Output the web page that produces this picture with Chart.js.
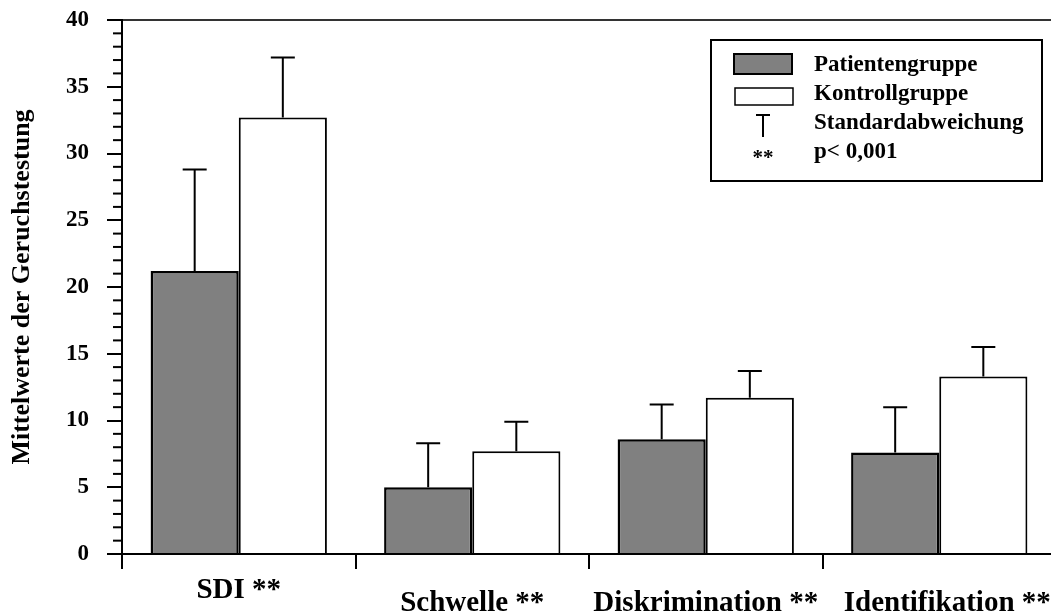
<!DOCTYPE html>
<html>
<head>
<meta charset="utf-8">
<script src="https://cdn.jsdelivr.net/npm/chart.js@4.4.1/dist/chart.umd.min.js"></script>
<style>
  html, body { margin: 0; padding: 0; background: #fff; overflow: hidden; }
  #c { display: block; }
</style>
</head>
<body>
<canvas id="c" width="1056" height="612"></canvas>

<script type="text/javascript">
    // Werte
    const categories = ['SDI **', 'Schwelle **', 'Diskrimination **', 'Identifikation **'];
    const patientMeans = [21.2, 5.0, 8.6, 7.6];
    const patientSD = [7.6, 3.3, 2.6, 3.4];
    const controlMeans = [32.7, 7.7, 11.7, 13.3];
    const controlSD = [4.5, 2.2, 2.0, 2.2];
    const yTicks = [0, 5, 10, 15, 20, 25, 30, 35, 40];
    const legendLabels = ['Patientengruppe', 'Kontrollgruppe', 'Standardabweichung', 'p< 0,001'];
    const yTitle = 'Mittelwerte der Geruchstestung';

    const SERIF = '"Liberation Serif", "Times New Roman", serif';

    // Standardabweichung nach oben
    const errorBars = {
      id: 'errorBars',
      afterDatasetsDraw(chart) {
        const ctx = chart.ctx;
        const y = chart.scales.y;
        const sds = [patientSD, controlSD];
        const means = [patientMeans, controlMeans];
        ctx.save();
        ctx.strokeStyle = '#000';
        ctx.lineWidth = 2;
        chart.data.datasets.forEach((ds, di) => {
          chart.getDatasetMeta(di).data.forEach((bar, i) => {
            const top = y.getPixelForValue(means[di][i] + sds[di][i]);
            ctx.beginPath();
            ctx.moveTo(bar.x, bar.y);
            ctx.lineTo(bar.x, top);
            ctx.moveTo(bar.x - 12, top);
            ctx.lineTo(bar.x + 12, top);
            ctx.stroke();
          });
        });
        ctx.restore();
      }
    };

    // kleine Striche an der y-Achse
    const minorTicks = {
      id: 'minorTicks',
      afterDraw(chart) {
        const ctx = chart.ctx;
        const y = chart.scales.y;
        const left = chart.chartArea.left;
        ctx.save();
        ctx.strokeStyle = '#000';
        ctx.lineWidth = 2;
        for (let v = y.min; v <= y.max; v++) {
          if (v % 5 === 0) continue;
          const py = y.getPixelForValue(v);
          ctx.beginPath();
          ctx.moveTo(left - 9, py);
          ctx.lineTo(left, py);
          ctx.stroke();
        }
        ctx.restore();
      }
    };

    // Kategorienamen unter der x-Achse
    const xLabels = {
      id: 'xLabels',
      afterDraw(chart) {
        const ctx = chart.ctx;
        const x = chart.scales.x;
        ctx.save();
        ctx.fillStyle = '#000';
        ctx.font = 'bold 29px ' + SERIF;
        ctx.textAlign = 'center';
        ctx.textBaseline = 'alphabetic';
        categories.forEach((lab, i) => {
          const base = i === 0 ? 598 : 611;
          const nudge = i === 3 ? 8 : 0;
          ctx.fillText(lab, x.getPixelForValue(i) + nudge, base);
        });
        ctx.restore();
      }
    };

    // Legende mit Rahmen
    const boxLegend = {
      id: 'boxLegend',
      afterDraw(chart) {
        const ctx = chart.ctx;
        const ds = chart.data.datasets;
        ctx.save();
        ctx.strokeStyle = '#000';
        ctx.lineWidth = 2;
        ctx.fillStyle = '#fff';
        ctx.fillRect(711, 40, 331, 141);
        ctx.strokeRect(711, 40, 331, 141);

        ctx.lineWidth = 2;
        ctx.fillStyle = ds[0].backgroundColor;
        ctx.fillRect(734, 54, 58, 20);
        ctx.strokeRect(734, 54, 58, 20);
        ctx.lineWidth = 1.5;
        ctx.fillStyle = ds[1].backgroundColor;
        ctx.fillRect(735, 88, 58, 17);
        ctx.strokeRect(735, 88, 58, 17);

        ctx.lineWidth = 2;
        ctx.beginPath();
        ctx.moveTo(756, 115);
        ctx.lineTo(770, 115);
        ctx.moveTo(763, 115);
        ctx.lineTo(763, 137);
        ctx.stroke();

        ctx.fillStyle = '#000';
        ctx.font = 'bold 21px ' + SERIF;
        ctx.textAlign = 'center';
        ctx.fillText('**', 763, 164);

        ctx.font = 'bold 23px ' + SERIF;
        ctx.textAlign = 'left';
        const bases = [71, 100, 129, 158];
        legendLabels.forEach((t, i) => ctx.fillText(t, 814, bases[i]));
        ctx.restore();
      }
    };

    const ctx = document.getElementById('c').getContext('2d');

    const chart = new Chart(ctx, {
      type: 'bar',
      data: {
        labels: categories,
        datasets: [
          {
            label: legendLabels[0],
            data: patientMeans,
            backgroundColor: '#808080',
            borderColor: '#000',
            borderWidth: 2.5,
            categoryPercentage: 0.755,
            barPercentage: 1.0
          },
          {
            label: legendLabels[1],
            data: controlMeans,
            backgroundColor: '#ffffff',
            borderColor: '#000',
            borderWidth: 2,
            categoryPercentage: 0.755,
            barPercentage: 1.0
          }
        ]
      },
      options: {
        responsive: false,
        animation: false,
        devicePixelRatio: 1,
        layout: { padding: { top: 20, left: 0, right: 0, bottom: 0 } },
        plugins: {
          legend: { display: false },
          tooltip: { enabled: false }
        },
        scales: {
          x: {
            afterFit: (s) => { s.height = 58; s.paddingLeft = 0; s.paddingRight = 0; },
            grid: {
              offset: true,
              drawOnChartArea: false,
              drawTicks: true,
              tickLength: 15,
              color: '#000',
              lineWidth: 2
            },
            border: { display: true, color: '#000', width: 2 },
            ticks: { display: false }
          },
          y: {
            min: 0,
            max: 40,
            afterFit: (s) => { s.width = 122; s.paddingTop = 0; s.paddingBottom = 0; },
            afterBuildTicks: (s) => { s.ticks = yTicks.map(v => ({ value: v })); },
            grid: {
              drawOnChartArea: true,
              color: (c) => (c.tick && c.tick.value === 40) ? '#333' : 'rgba(0,0,0,0)',
              tickColor: '#000',
              tickLength: 15,
              lineWidth: 2
            },
            border: { display: true, color: '#000', width: 2 },
            ticks: {
              color: '#000',
              padding: 18,
              font: { family: SERIF, size: 23, weight: 'bold' }
            },
            title: {
              display: true,
              text: yTitle,
              color: '#000',
              padding: { top: 7, bottom: 0 },
              font: { family: SERIF, size: 26, weight: 'bold' }
            }
          }
        }
      },
      plugins: [errorBars, minorTicks, xLabels, boxLegend]
    });
</script>
</body>
</html>
